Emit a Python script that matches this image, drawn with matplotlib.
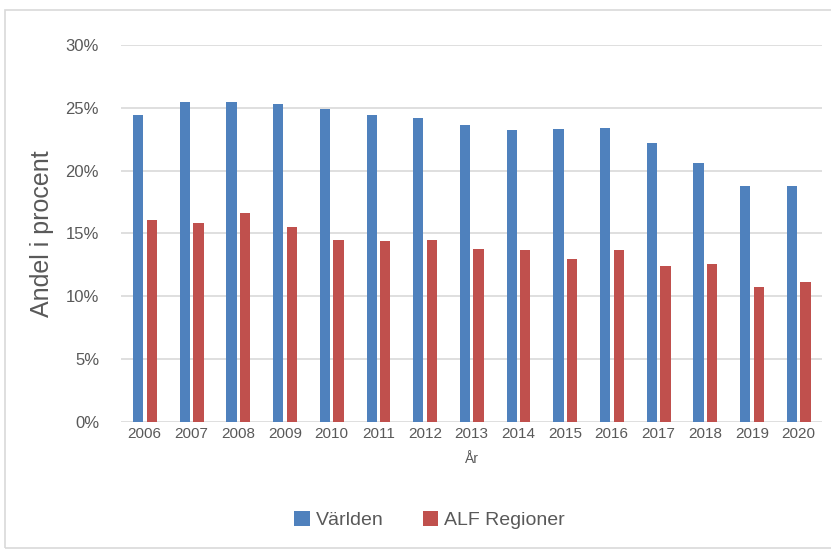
import matplotlib.pyplot as plt
import numpy as np
from matplotlib.patches import Rectangle
from matplotlib.ticker import FuncFormatter

years = ['2006', '2007', '2008', '2009', '2010', '2011', '2012', '2013',
         '2014', '2015', '2016', '2017', '2018', '2019', '2020']
varlden = [24.4, 25.5, 25.5, 25.3, 24.9, 24.4, 24.2, 23.6, 23.2, 23.3, 23.4, 22.2, 20.6, 18.8, 18.8]
alf = [16.1, 15.8, 16.6, 15.5, 14.5, 14.4, 14.5, 13.8, 13.7, 13.0, 13.7, 12.4, 12.6, 10.7, 11.1]

grey = '#595959'
plt.rcParams['font.family'] = ['Liberation Sans', 'DejaVu Sans']

fig = plt.figure(figsize=(8.31, 5.5), dpi=100)
fig.patches.append(Rectangle((5 / 831, 0.003), 1, 0.978, transform=fig.transFigure,
                             fill=False, edgecolor='#d9d9d9', linewidth=1.2))
ax = fig.add_axes([0.146, 0.233, 0.843, 0.685])

x = np.arange(len(years))
w = 0.22
ax.bar(x - 0.14, varlden, w, color='#4F81BD', label='Världen', zorder=3)
ax.bar(x + 0.15, alf, w, color='#C0504D', label='ALF Regioner', zorder=3)

ax.set_xlim(-0.5, len(years) - 0.5)
ax.set_ylim(0, 30)
ax.set_yticks(range(0, 31, 5))
ax.yaxis.set_major_formatter(FuncFormatter(lambda v, p: f'{int(v)}%'))
ax.set_xticks(x)
ax.set_xticklabels(years)
ax.grid(axis='y', color='#d9d9d9', linewidth=1.2, zorder=0)
for s in ax.spines.values():
    s.set_visible(False)
ax.tick_params(length=0, colors=grey, labelsize=11)
ax.tick_params(axis='y', pad=16, labelsize=12)

ax.set_ylabel('Andel i procent', fontsize=18, color=grey, labelpad=8)
ax.set_xlabel('År', fontsize=10, color=grey, labelpad=8)

leg = ax.legend(loc='upper center', bbox_to_anchor=(0.44, -0.19), ncol=2, frameon=False,
                fontsize=14, handlelength=0.8, handleheight=0.8, handletextpad=0.3,
                columnspacing=2.0)
for t in leg.get_texts():
    t.set_color(grey)

plt.savefig('out.png', dpi=100)
